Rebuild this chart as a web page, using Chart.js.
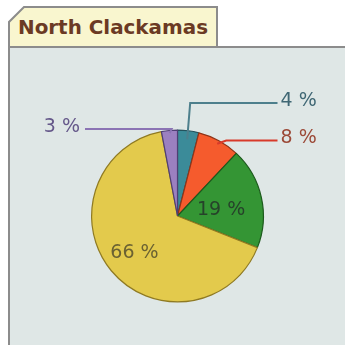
<!DOCTYPE html>
<html>
<head>
<meta charset="utf-8">
<script src="https://cdn.jsdelivr.net/npm/chart.js@4/dist/chart.umd.min.js"></script>
<style>
  html, body { margin: 0; padding: 0; background: #ffffff; }
  #wrap { position: relative; width: 345px; height: 345px; overflow: hidden; }
  #frame, #c { position: absolute; left: 0; top: 0; }
</style>
</head>
<body>
<div id="wrap">
  <svg id="frame" width="345" height="345">
    <rect x="9" y="47" width="345" height="305" fill="#dfe7e6" stroke="#8c8c8c" stroke-width="2"/>
    <path d="M9 47 L9 22 L24 7 L217 7 L217 47" fill="#f9f6cf" stroke="#8c8c8c" stroke-width="2"/>
    <line x1="8" y1="47" x2="345" y2="47" stroke="#8c8c8c" stroke-width="2"/>
    <text x="18" y="34" font-family="DejaVu Sans" font-weight="bold" font-size="19"
          fill="#6b3a24" textLength="190" lengthAdjust="spacingAndGlyphs">North Clackamas</text>
  </svg>
  <canvas id="c" width="345" height="345"></canvas>
</div>
<script>
// Shares per segment, clockwise from twelve o'clock
const segments = ['s1', 's2', 's3', 's4', 's5'];
const shares = [4, 8, 19, 66, 3];
const fills = ['#3b8b99', '#f55b2d', '#349534', '#e3ca4c', '#9b80c0'];
const edges = ['#24525c', '#8f3418', '#1c5a1c', '#8f7a22', '#4f3f74'];

// How each value label is placed: outside with a leader line, or inside the slice
const labelStyle = [
  { mode: 'out', r: 0.90, elbowDx: 3, lineY: -113, endX: 100, textX: 103, textY: -114.5,
    align: 'left', line: '#4d7f8c', text: '#3f6774' },
  { mode: 'out', r: 0.96, elbowDx: 9, lineY: -75.5, endX: 100, textX: 103, textY: -77.5,
    align: 'left', line: '#d83a2a', text: '#9c4a38' },
  { mode: 'in', r: 0.52, dy: 4, text: '#26422a' },
  { mode: 'in', r: 0.65, dy: 1, text: '#6b6232' },
  { mode: 'out', r: 0.97, elbowDx: 2, lineY: -87, endX: -92.5, textX: -97.5, textY: -89,
    align: 'right', line: '#8b74b4', text: '#65588a' }
];

const valueLabels = {
  id: 'valueLabels',
  afterDatasetsDraw(chart) {
    const ctx = chart.ctx;
    const arcs = chart.getDatasetMeta(0).data;
    ctx.save();
    ctx.font = '19px "DejaVu Sans"';
    ctx.textBaseline = 'middle';
    arcs.forEach((arc, i) => {
      const st = labelStyle[i];
      const { x: cx, y: cy, startAngle, endAngle, outerRadius } = arc.getProps(
        ['x', 'y', 'startAngle', 'endAngle', 'outerRadius'], true);
      const mid = (startAngle + endAngle) / 2;
      const px = cx + Math.cos(mid) * outerRadius * st.r;
      const py = cy + Math.sin(mid) * outerRadius * st.r;
      const label = shares[i] + ' %';
      if (st.mode === 'in') {
        ctx.fillStyle = st.text;
        ctx.textAlign = 'center';
        ctx.fillText(label, px, py + (st.dy || 0));
        return;
      }
      ctx.strokeStyle = st.line;
      ctx.lineWidth = 2;
      ctx.beginPath();
      ctx.moveTo(px, py);
      ctx.lineTo(px + st.elbowDx, cy + st.lineY);
      ctx.lineTo(cx + st.endX, cy + st.lineY);
      ctx.stroke();
      ctx.fillStyle = st.text;
      ctx.textAlign = st.align;
      ctx.fillText(label, cx + st.textX, cy + st.textY);
    });
    ctx.restore();
  }
};

new Chart(document.getElementById('c'), {
  type: 'pie',
  data: {
    labels: segments,
    datasets: [{
      data: shares,
      backgroundColor: fills,
      borderColor: edges,
      borderWidth: 1.2
    }]
  },
  options: {
    responsive: false,
    devicePixelRatio: 1,
    animation: false,
    layout: { padding: { left: 91, top: 129.5, right: 81, bottom: 42.5 } },
    plugins: {
      legend: { display: false },
      tooltip: { enabled: false },
      title: { display: false }
    }
  },
  plugins: [valueLabels]
});
</script>
</body>
</html>
